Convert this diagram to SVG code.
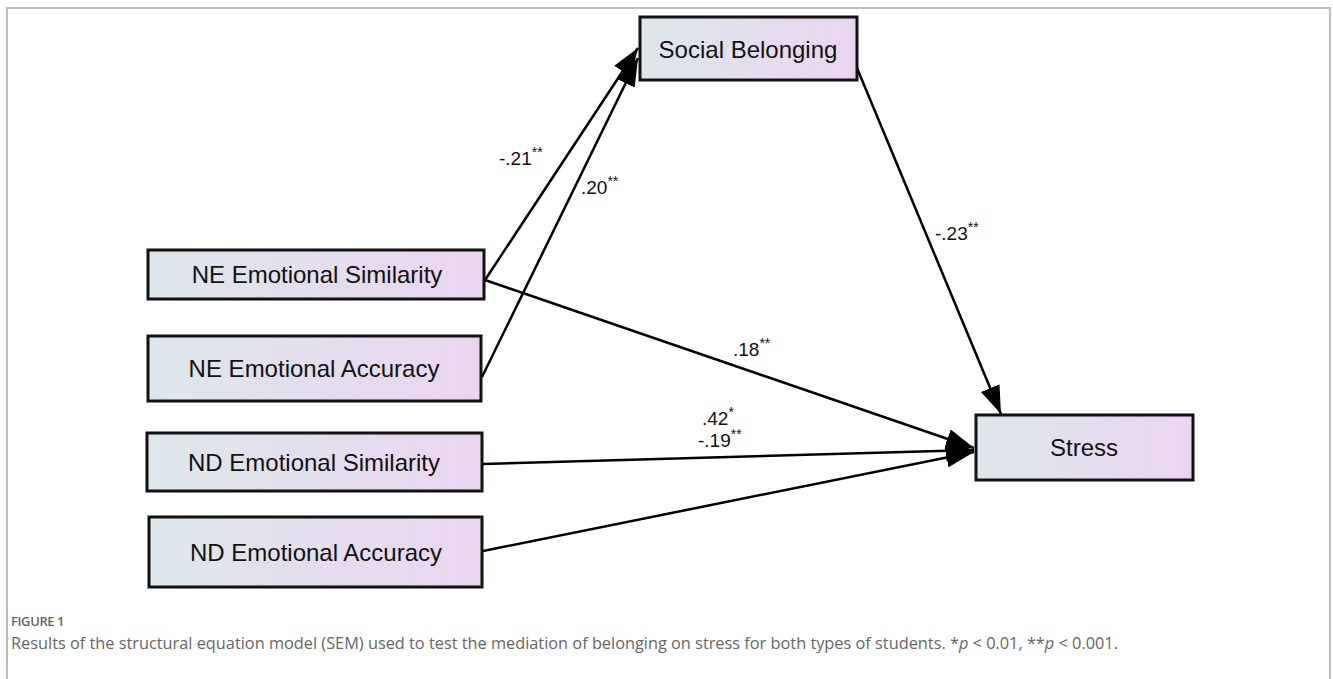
<svg xmlns="http://www.w3.org/2000/svg" width="1333" height="679" viewBox="0 0 1333 679">
<style>
.box{fill:url(#g);stroke:#111;stroke-width:3}
.lbl{font-family:"Liberation Sans",Arial,sans-serif;font-size:24px;fill:#111;text-anchor:middle}
.edge{stroke:#000;stroke-width:2.5;fill:none;marker-end:url(#ah)}
.el{font-family:"Liberation Sans",Arial,sans-serif;font-size:19px;fill:#111}
.st{font-size:14px}
.cap{font-family:"Open Sans","Liberation Sans",sans-serif;fill:#666}
</style>
<defs>
<linearGradient id="g" x1="0" y1="0" x2="1" y2="0">
<stop offset="0" stop-color="#dde7ea"/>
<stop offset="1" stop-color="#ebd5f1"/>
</linearGradient>
<marker id="ah" markerUnits="userSpaceOnUse" markerWidth="30" markerHeight="22" refX="28" refY="10" orient="auto">
<path d="M0,0 L28,10 L0,20 z" fill="#000"/>
</marker>
</defs>
<rect x="0" y="0" width="1333" height="679" fill="#fff"/>
<path d="M7,679 V8 H1330 V679" fill="none" stroke="#bdbdbd" stroke-width="2"/>
<g id="connectors">
<line class="edge" x1="485" y1="280" x2="638" y2="48"/>
<line class="edge" x1="482" y1="377" x2="638" y2="58"/>
<line class="edge" x1="857" y1="68" x2="1001" y2="414"/>
<line class="edge" x1="485" y1="280" x2="974" y2="448"/>
<line class="edge" x1="483" y1="464" x2="974" y2="450"/>
<line class="edge" x1="483" y1="551" x2="974" y2="452"/>
<text class="el" x="499" y="165">-.21<tspan class="st" dy="-8">**</tspan></text>
<text class="el" x="581" y="194">.20<tspan class="st" dy="-8">**</tspan></text>
<text class="el" x="935" y="240">-.23<tspan class="st" dy="-8">**</tspan></text>
<text class="el" x="733" y="356">.18<tspan class="st" dy="-8">**</tspan></text>
<text class="el" x="702" y="425">.42<tspan class="st" dy="-8">*</tspan></text>
<text class="el" x="698" y="447">-.19<tspan class="st" dy="-8">**</tspan></text>
</g>
<g id="social-belonging">
<rect class="box" x="640" y="17" width="217" height="63"/>
<text class="lbl" x="748" y="58">Social Belonging</text>
</g>
<g id="ne-sim">
<rect class="box" x="148" y="250" width="336" height="49"/>
<text class="lbl" x="317" y="283">NE Emotional Similarity</text>
</g>
<g id="ne-acc">
<rect class="box" x="148" y="336" width="333" height="65"/>
<text class="lbl" x="314" y="377">NE Emotional Accuracy</text>
</g>
<g id="nd-sim">
<rect class="box" x="147" y="433" width="335" height="58"/>
<text class="lbl" x="314" y="471">ND Emotional Similarity</text>
</g>
<g id="nd-acc">
<rect class="box" x="149" y="517" width="333" height="70"/>
<text class="lbl" x="316" y="561">ND Emotional Accuracy</text>
</g>
<g id="stress">
<rect class="box" x="976" y="415" width="217" height="65"/>
<text class="lbl" x="1084" y="456">Stress</text>
</g>
<text class="cap" x="11" y="626" font-size="13" font-weight="600" letter-spacing="-0.4">FIGURE 1</text>
<text class="cap" x="11" y="649" font-size="15.5" textLength="1107" lengthAdjust="spacingAndGlyphs">Results of the structural equation model (SEM) used to test the mediation of belonging on stress for both types of students. *<tspan font-style="italic">p</tspan> &lt; 0.01, **<tspan font-style="italic">p</tspan> &lt; 0.001.</text>
</svg>
